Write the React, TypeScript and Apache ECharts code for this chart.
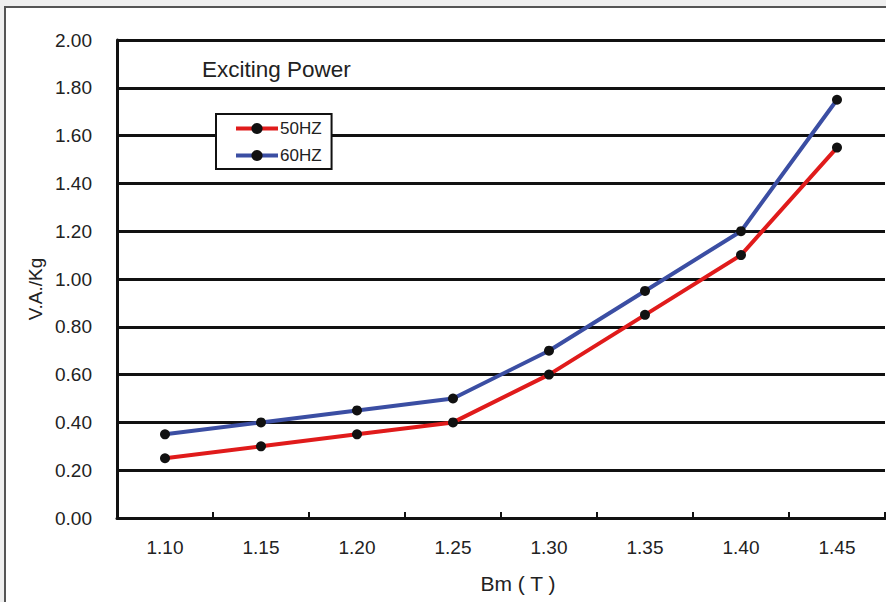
import React, { useEffect, useRef } from "react";
import * as echarts from "echarts";

const categories = ["1.10", "1.15", "1.20", "1.25", "1.30", "1.35", "1.40", "1.45"];
const hz50 = [0.25, 0.3, 0.35, 0.4, 0.6, 0.85, 1.1, 1.55];
const hz60 = [0.35, 0.4, 0.45, 0.5, 0.7, 0.95, 1.2, 1.75];
const seriesNames = ["50HZ", "60HZ"];
const titleText = "Exciting Power";
const yName = "V.A./Kg";
const xName = "Bm ( T )";

const FONT = "'Liberation Sans', Arial, Helvetica, sans-serif";

export default function App() {
  const ref = useRef<HTMLDivElement>(null);

  useEffect(() => {
    document.body.style.margin = "0";
    if (!ref.current) return;
    const chart = echarts.init(ref.current, null, { renderer: "svg" });
    chart.setOption({
      animation: false,
      backgroundColor: "transparent",
      textStyle: { fontFamily: FONT },
      grid: { left: 117, right: 1, top: 40, bottom: 84, containLabel: false },
      xAxis: {
        type: "category",
        data: categories,
        boundaryGap: true,
        axisLine: { show: true, lineStyle: { color: "#111", width: 3 } },
        axisTick: { show: true, inside: true, length: 6, lineStyle: { color: "#111", width: 2 } },
        axisLabel: { color: "#222", fontSize: 19, margin: 20, fontFamily: FONT },
        splitLine: { show: false },
      },
      yAxis: {
        type: "value",
        min: 0,
        max: 2,
        interval: 0.2,
        axisLine: { show: true, lineStyle: { color: "#111", width: 3 } },
        axisTick: { show: false },
        axisLabel: {
          color: "#222",
          fontSize: 19,
          margin: 25,
          fontFamily: FONT,
          formatter: (v: number) => v.toFixed(2),
        },
        splitLine: { show: true, lineStyle: { color: "#111", width: 3 } },
      },
      legend: {
        data: seriesNames,
        orient: "vertical",
        left: 216,
        top: 114,
        backgroundColor: "#fff",
        borderColor: "#111",
        borderWidth: 2,
        borderRadius: 0,
        padding: [6, 10, 5, 18],
        itemGap: 10,
        itemWidth: 42,
        itemHeight: 14,
        lineStyle: { width: 4 },
        textStyle: { color: "#222", fontSize: 17, fontFamily: FONT, padding: [0, 0, 0, -3] },
      },
      series: [
        {
          name: seriesNames[0],
          type: "line",
          data: hz50,
          symbol: "circle",
          symbolSize: 10,
          itemStyle: { color: "#111" },
          lineStyle: { color: "#e01b1b", width: 4 },
          z: 3,
        },
        {
          name: seriesNames[1],
          type: "line",
          data: hz60,
          symbol: "circle",
          symbolSize: 10,
          itemStyle: { color: "#111" },
          lineStyle: { color: "#3b4ea3", width: 4 },
          z: 3,
        },
      ],
      graphic: [
        {
          type: "text",
          left: 202,
          top: 58,
          style: { text: titleText, fill: "#222", font: `22.5px ${FONT}` },
        },
        {
          type: "text",
          x: 35,
          y: 289,
          rotation: Math.PI / 2,
          style: {
            text: yName,
            fill: "#222",
            font: `19px ${FONT}`,
            textAlign: "center",
            textVerticalAlign: "middle",
          },
        },
        {
          type: "text",
          x: 518,
          y: 583,
          style: {
            text: xName,
            fill: "#222",
            font: `21px ${FONT}`,
            textAlign: "center",
            textVerticalAlign: "middle",
          },
        },
      ],
    });
    return () => chart.dispose();
  }, []);

  return (
    <div
      style={{
        position: "absolute",
        left: 0,
        top: 0,
        width: 886,
        height: 602,
        overflow: "hidden",
        background: "#efefef",
      }}
    >
      <div
        style={{
          position: "absolute",
          left: 4,
          top: 6,
          width: 900,
          height: 620,
          background: "#fff",
          borderLeft: "2px solid #555",
          borderTop: "2px solid #555",
        }}
      />
      <div ref={ref} style={{ position: "absolute", left: 0, top: 0, width: 886, height: 602 }} />
    </div>
  );
}
